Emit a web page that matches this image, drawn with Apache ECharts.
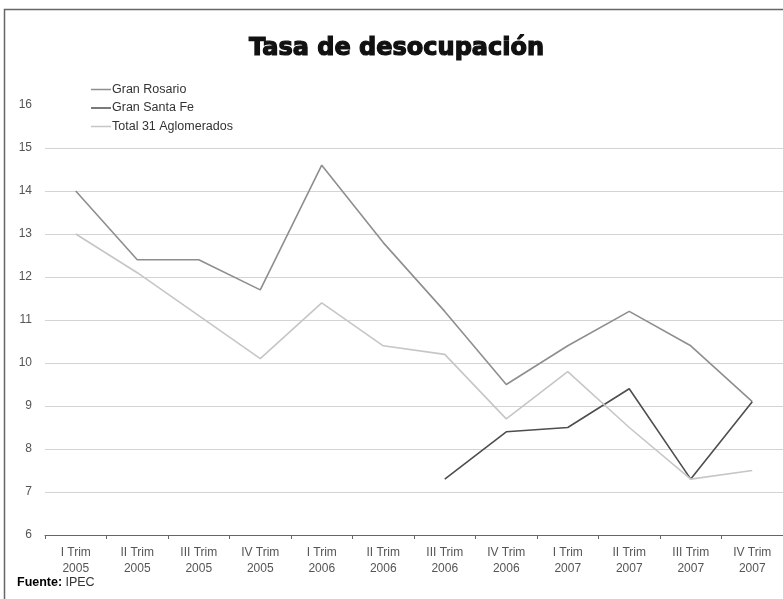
<!DOCTYPE html>
<html><head><meta charset="utf-8">
<script src="https://cdn.jsdelivr.net/npm/echarts@6/dist/echarts.min.js"></script>
<style>html,body{margin:0;padding:0;background:#fff}#c{width:783px;height:599px}</style>
</head><body><div id="c"></div>
<script>
var categories = ['I Trim\n2005','II Trim\n2005','III Trim\n2005','IV Trim\n2005','I Trim\n2006','II Trim\n2006','III Trim\n2006','IV Trim\n2006','I Trim\n2007','II Trim\n2007','III Trim\n2007','IV Trim\n2007'];
var granRosario = [14.0, 12.4, 12.4, 11.7, 14.6, 12.8, 11.2, 9.5, 10.4, 11.2, 10.4, 9.1];
var granSantaFe = [null, null, null, null, null, null, 7.3, 8.4, 8.5, 9.4, 7.3, 9.1];
var total31 = [13.0, 12.1, 11.1, 10.1, 11.4, 10.4, 10.2, 8.7, 9.8, 8.5, 7.3, 7.5];
var seriesNames = ['Gran Rosario', 'Gran Santa Fe', 'Total 31 Aglomerados'];

var chart = echarts.init(document.getElementById('c'), null, {renderer: 'canvas'});
var font = 'Liberation Sans, Arial, sans-serif';
chart.setOption({
  animation: false,
  backgroundColor: '#fff',
  textStyle: {fontFamily: font},
  title: {
    text: 'Tasa de desocupación',
    left: 244,
    top: 32,
    textStyle: {fontFamily: 'DejaVu Sans', fontWeight: 'bold', fontSize: 24, color: '#111', textBorderColor: '#111', textBorderWidth: 1.2}
  },
  graphic: [
    {type: 'rect', shape: {x: 4.5, y: 9.5, width: 800, height: 620}, style: {fill: 'none', stroke: '#666', lineWidth: 1.5}, silent: true},
    {type: 'text', left: 17, top: 576, style: {rich: {b: {fontWeight: 'bold', fontSize: 12.5, fontFamily: font, fill: '#000'}, n: {fontSize: 12.5, fontFamily: font, fill: '#333'}}, text: '{b|Fuente:} {n|IPEC}'}}
  ],
  legend: {
    orient: 'vertical',
    left: 86,
    top: 78,
    icon: 'rect',
    itemWidth: 20,
    itemHeight: 1.5,
    itemGap: 5.5,
    textStyle: {fontFamily: font, fontSize: 12.5, color: '#333', padding: [0, 0, 0, -4]},
    data: seriesNames
  },
  grid: {left: 45, top: 105, width: 743, height: 430},
  xAxis: {
    type: 'category',
    data: categories,
    boundaryGap: true,
    axisLine: {lineStyle: {color: '#666', width: 1}},
    axisTick: {show: true, length: 4, lineStyle: {color: '#666'}},
    axisLabel: {fontFamily: font, fontSize: 12, color: '#555', margin: 10, lineHeight: 16, interval: 0},
    splitLine: {show: false}
  },
  yAxis: {
    type: 'value',
    min: 6, max: 16, interval: 1,
    axisLine: {show: false},
    axisTick: {show: false},
    axisLabel: {fontFamily: font, fontSize: 12, color: '#555', margin: 13},
    splitLine: {show: true, showMaxLine: false, lineStyle: {color: '#d4d4d4', width: 1}}
  },
  series: [
    {name: seriesNames[0], type: 'line', data: granRosario, symbol: 'none', lineStyle: {color: '#8e8e8e', width: 1.6}, itemStyle: {color: '#8e8e8e'}},
    {name: seriesNames[1], type: 'line', data: granSantaFe, symbol: 'none', lineStyle: {color: '#4e4e4e', width: 1.6}, itemStyle: {color: '#4e4e4e'}},
    {name: seriesNames[2], type: 'line', data: total31, symbol: 'none', lineStyle: {color: '#c6c6c6', width: 1.6}, itemStyle: {color: '#c6c6c6'}}
  ]
});
</script></body></html>
